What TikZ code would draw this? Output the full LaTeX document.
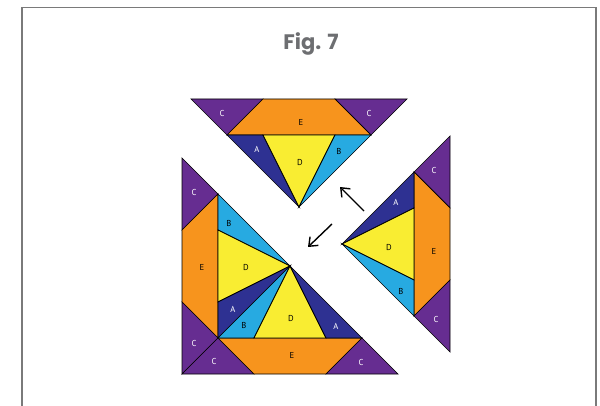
\documentclass[tikz,border=0pt]{standalone}
\usepackage{fontspec}
\usepackage{tikz}
\usetikzlibrary{arrows.meta}
\setmainfont{PT Sans}
\newfontfamily\titlefont{Poppins}
\definecolor{quiltpurple}{HTML}{662D91}
\definecolor{quiltorange}{HTML}{F7941D}
\definecolor{quiltnavy}{HTML}{2E3192}
\definecolor{quiltcyan}{HTML}{27AAE1}
\definecolor{quiltyellow}{HTML}{F9ED32}
\definecolor{framegray}{HTML}{7A7A7A}
\definecolor{titlegray}{HTML}{6D6E71}

\begin{document}
\begin{tikzpicture}[x=1pt, y=-1pt,
			patch_style/.style={draw=black, line width=0.7pt},
			c_style/.style={patch_style, fill=quiltpurple},
			e_style/.style={patch_style, fill=quiltorange},
			a_style/.style={patch_style, fill=quiltnavy},
			b_style/.style={patch_style, fill=quiltcyan},
			d_style/.style={patch_style, fill=quiltyellow},
			white_label/.style={text=white, font=\fontsize{8.6}{10}\selectfont, inner sep=0pt},
			dark_label/.style={text=black, font=\fontsize{8.6}{10}\selectfont, inner sep=0pt},
			title_style/.style={text=titlegray, font=\titlefont\bfseries\fontsize{21}{24}\selectfont},
			frame_style/.style={draw=framegray, line width=1.3pt},
			arrow_style/.style={draw=black, line width=1.4pt, -{Straight Barb[length=7.5pt, width=12pt]}}]
			\useasboundingbox (0,0) rectangle (600,406);
			\draw[frame_style] (22,406) -- (22,7.5) -- (596,7.5) -- (596,406);
			\node[title_style] (title) at (311,44) {Fig. 7};
			% top piece
			\filldraw[c_style] (191,99) -- (263,99) -- (227,135) -- cycle;
			\filldraw[e_style] (263,99) -- (335,99) -- (371,135) -- (227,135) -- cycle;
			\filldraw[c_style] (335,99) -- (407,99) -- (371,135) -- cycle;
			\filldraw[a_style] (227,135) -- (263,135) -- (299,207) -- cycle;
			\filldraw[d_style] (263,135) -- (335,135) -- (299,207) -- cycle;
			\filldraw[b_style] (335,135) -- (371,135) -- (299,207) -- cycle;
			% left piece
			\filldraw[c_style] (182,158) -- (182,230) -- (218,194) -- cycle;
			\filldraw[e_style] (182,230) -- (182,302) -- (218,338) -- (218,194) -- cycle;
			\filldraw[c_style] (182,302) -- (182,374) -- (218,338) -- cycle;
			\filldraw[b_style] (218,194) -- (218,230) -- (290,266) -- cycle;
			\filldraw[d_style] (218,230) -- (218,302) -- (290,266) -- cycle;
			\filldraw[a_style] (218,302) -- (218,338) -- (290,266) -- cycle;
			% bottom piece
			\filldraw[c_style] (182,374) -- (254,374) -- (218,338) -- cycle;
			\filldraw[e_style] (254,374) -- (326,374) -- (362,338) -- (218,338) -- cycle;
			\filldraw[c_style] (326,374) -- (398,374) -- (362,338) -- cycle;
			\filldraw[b_style] (218,338) -- (254,338) -- (290,266) -- cycle;
			\filldraw[d_style] (254,338) -- (326,338) -- (290,266) -- cycle;
			\filldraw[a_style] (326,338) -- (362,338) -- (290,266) -- cycle;
			% right piece
			\filldraw[c_style] (450,136) -- (450,208) -- (414,172) -- cycle;
			\filldraw[e_style] (450,208) -- (450,280) -- (414,316) -- (414,172) -- cycle;
			\filldraw[c_style] (450,280) -- (450,352) -- (414,316) -- cycle;
			\filldraw[a_style] (414,172) -- (414,208) -- (342,244) -- cycle;
			\filldraw[d_style] (414,208) -- (414,280) -- (342,244) -- cycle;
			\filldraw[b_style] (414,280) -- (414,316) -- (342,244) -- cycle;
			% labels
			\node[white_label] (topCl) at (222,113) {C};
			\node[dark_label] (topE) at (301,122) {E};
			\node[white_label] (topCr) at (369,113) {C};
			\node[white_label] (topA) at (257,149) {A};
			\node[dark_label] (topD) at (300,162) {D};
			\node[dark_label] (topB) at (339,151) {B};
			\node[white_label] (leftCt) at (194,192) {C};
			\node[dark_label] (leftB) at (229,223) {B};
			\node[dark_label] (leftE) at (202,267) {E};
			\node[dark_label] (leftD) at (246,267) {D};
			\node[white_label] (leftA) at (233,309) {A};
			\node[white_label] (leftCb) at (194,343) {C};
			\node[white_label] (botCl) at (214,361) {C};
			\node[dark_label] (botB) at (244,325) {B};
			\node[dark_label] (botD) at (291,318) {D};
			\node[white_label] (botA) at (336,326) {A};
			\node[dark_label] (botE) at (292,355) {E};
			\node[white_label] (botCr) at (361,362) {C};
			\node[white_label] (rightCt) at (434,170) {C};
			\node[white_label] (rightA) at (396,202) {A};
			\node[dark_label] (rightD) at (389,247) {D};
			\node[dark_label] (rightE) at (434,251) {E};
			\node[dark_label] (rightB) at (401,291) {B};
			\node[white_label] (rightCb) at (436,319) {C};
			% arrows
			\coordinate (tail1) at (364,211);
			\coordinate (tip1) at (340,187);
			\coordinate (tail2) at (332,224);
			\coordinate (tip2) at (308,247);
			\draw[arrow_style] (tail1) -- (tip1);
			\draw[arrow_style] (tail2) -- (tip2);
\end{tikzpicture}
\end{document}
